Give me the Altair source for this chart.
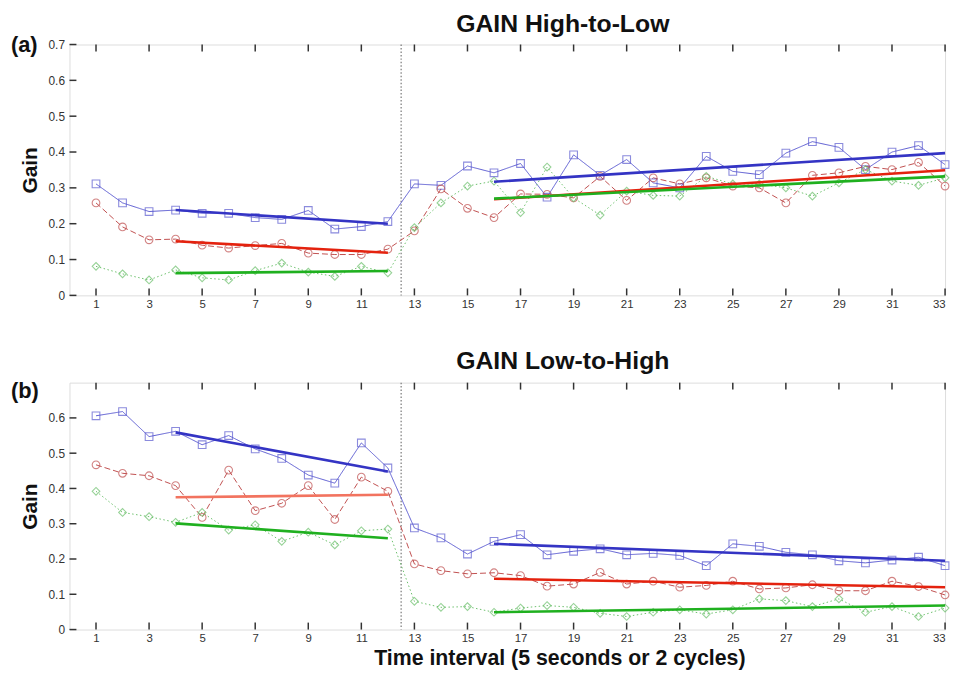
import altair as alt
import pandas as pd

intervals = list(range(1, 34))
x_ticks = list(range(1, 34, 2))
switch_at = [12.5]

a_blue = [0.311, 0.258, 0.234, 0.238, 0.229, 0.229, 0.217, 0.212, 0.237, 0.185, 0.192, 0.206,
          0.311, 0.307, 0.361, 0.342, 0.368, 0.274, 0.392, 0.335, 0.379, 0.314, 0.300, 0.388,
          0.346, 0.337, 0.397, 0.429, 0.413, 0.351, 0.400, 0.418, 0.365]
a_red = [0.258, 0.191, 0.155, 0.157, 0.140, 0.132, 0.139, 0.145, 0.118, 0.114, 0.114, 0.129,
         0.180, 0.297, 0.243, 0.217, 0.283, 0.282, 0.272, 0.332, 0.265, 0.328, 0.311, 0.328,
         0.305, 0.300, 0.258, 0.335, 0.342, 0.360, 0.351, 0.371, 0.305]
a_green = [0.081, 0.060, 0.043, 0.071, 0.049, 0.043, 0.069, 0.090, 0.065, 0.053, 0.081, 0.063,
           0.189, 0.258, 0.305, 0.319, 0.231, 0.358, 0.272, 0.224, 0.291, 0.279, 0.277, 0.332,
           0.311, 0.311, 0.300, 0.277, 0.314, 0.351, 0.319, 0.307, 0.328]
b_blue = [0.606, 0.618, 0.547, 0.562, 0.524, 0.550, 0.512, 0.485, 0.438, 0.415, 0.529, 0.458,
          0.288, 0.260, 0.214, 0.250, 0.269, 0.212, 0.222, 0.229, 0.212, 0.216, 0.210, 0.181,
          0.243, 0.236, 0.219, 0.212, 0.195, 0.189, 0.197, 0.205, 0.181]
b_red = [0.467, 0.443, 0.436, 0.408, 0.318, 0.452, 0.337, 0.358, 0.408, 0.312, 0.432, 0.392,
         0.186, 0.167, 0.158, 0.161, 0.153, 0.123, 0.129, 0.162, 0.129, 0.137, 0.120, 0.125,
         0.137, 0.115, 0.118, 0.127, 0.110, 0.110, 0.137, 0.122, 0.098]
b_green = [0.392, 0.332, 0.320, 0.304, 0.332, 0.282, 0.297, 0.250, 0.276, 0.240, 0.280, 0.285,
           0.080, 0.063, 0.065, 0.049, 0.061, 0.068, 0.063, 0.046, 0.037, 0.049, 0.056, 0.044,
           0.056, 0.087, 0.082, 0.065, 0.087, 0.049, 0.065, 0.037, 0.061]

# trend-line endpoints (pre-switch: intervals 4..12, post-switch: 16..33)
fit_x_pre = [4, 12]
fit_x_post = [16, 33]
a_fit_blue_pre = [0.238, 0.200]
a_fit_blue_post = [0.317, 0.397]
a_fit_red_pre = [0.151, 0.119]
a_fit_red_post = [0.268, 0.349]
a_fit_green_pre = [0.062, 0.068]
a_fit_green_post = [0.270, 0.332]
b_fit_blue_pre = [0.559, 0.448]
b_fit_blue_post = [0.243, 0.195]
b_fit_red_pre = [0.375, 0.382]
b_fit_red_post = [0.144, 0.120]
b_fit_green_pre = [0.301, 0.259]
b_fit_green_post = [0.049, 0.068]

a_yticks = [0, 0.1, 0.2, 0.3, 0.4, 0.5, 0.6, 0.7]
b_yticks = [0, 0.1, 0.2, 0.3, 0.4, 0.5, 0.6]

series_names = ["blue", "red", "green"]

rows = []
for pkey, vals in (("a", (a_blue, a_red, a_green)), ("b", (b_blue, b_red, b_green))):
    for s, v in zip(series_names, vals):
        for xi, yi in zip(intervals, v):
            rows.append({"panel": pkey, "series": s, "x": xi, "y": yi})
data = pd.DataFrame(rows)

fits = {
    "a": {"blue": (a_fit_blue_pre, a_fit_blue_post), "red": (a_fit_red_pre, a_fit_red_post),
          "green": (a_fit_green_pre, a_fit_green_post)},
    "b": {"blue": (b_fit_blue_pre, b_fit_blue_post), "red": (b_fit_red_pre, b_fit_red_post),
          "green": (b_fit_green_pre, b_fit_green_post)},
}
frows = []
for pkey, d in fits.items():
    for s, (pre, post) in d.items():
        for seg, xs, ys in (("pre", fit_x_pre, pre), ("post", fit_x_post, post)):
            tone = s + ("_light" if (pkey == "b" and s == "red" and seg == "pre") else "")
            for xi, yi in zip(xs, ys):
                frows.append({"panel": pkey, "series": s, "seg": seg, "tone": tone, "x": xi, "y": yi})
fitdata = pd.DataFrame(frows)

FONT = "Liberation Sans"
W = 883

line_color = alt.Scale(domain=series_names, range=["#5b5bd0", "#c05050", "#6cc06c"])
dash_scale = alt.Scale(domain=series_names, range=[[1, 0], [6, 3], [1.5, 2.5]])
shape_scale = alt.Scale(domain=series_names, range=["square", "circle", "diamond"])
fit_color = alt.Scale(domain=["blue", "red", "green", "red_light"],
                      range=["#3434c4", "#e4220e", "#1fb01f", "#f2735f"])


def panel(pkey, title, label, yticks, xtitle, H, label_y, toff):
    x_enc = alt.X("x:Q", scale=alt.Scale(domain=[0, 33], nice=False, zero=False),
                  axis=alt.Axis(values=x_ticks, format="d", ticks=False, domain=False, grid=False,
                                labelFlush=True, labelPadding=3, labelFontSize=11.5, labelColor="#333",
                                labelFont=FONT, title=xtitle, titleFont=FONT, titleFontSize=21.5,
                                titleFontWeight="bold", titleX=494, titleY=18, titleBaseline="top",
                                titleColor="#111"))
    y_enc = alt.Y("y:Q", scale=alt.Scale(domain=[0, 0.7], nice=False),
                  axis=alt.Axis(values=yticks, format=".1~f", ticks=False, domain=False, grid=False,
                                labelPadding=5, labelFontSize=12, labelColor="#333", labelFont=FONT,
                                title="Gain", titleFont=FONT, titleFontSize=21, titleFontWeight="bold",
                                titlePadding=8, titleColor="#111"))
    d = data[data.panel == pkey]
    f = fitdata[fitdata.panel == pkey]

    lines = alt.Chart(d).mark_line(strokeWidth=1).encode(
        x=x_enc, y=y_enc,
        color=alt.Color("series:N", scale=line_color, legend=None),
        strokeDash=alt.StrokeDash("series:N", scale=dash_scale, legend=None),
    )
    pts = alt.Chart(d).mark_point(filled=False, size=60, strokeWidth=1.1).encode(
        x=x_enc, y=y_enc,
        color=alt.Color("series:N", scale=line_color, legend=None),
        shape=alt.Shape("series:N", scale=shape_scale, legend=None),
    )
    fitl = alt.Chart(f).mark_line(strokeWidth=2.6).encode(
        x=x_enc, y=y_enc,
        stroke=alt.Stroke("tone:N", scale=fit_color, legend=None),
        detail="seg:N",
    )
    vline = alt.Chart(pd.DataFrame({"x": switch_at})).mark_rule(
        color="#777", strokeDash=[1.5, 2], strokeWidth=1.2).encode(x=x_enc)
    xt = pd.DataFrame({"x": x_ticks})
    top_ticks = alt.Chart(xt).mark_rule(color="#333", strokeWidth=1.5).encode(
        x=x_enc, y=alt.value(0), y2=alt.value(7))
    bot_ticks = alt.Chart(xt).mark_rule(color="#333", strokeWidth=1.5).encode(
        x=x_enc, y=alt.value(H), y2=alt.value(H - 7))
    yt = pd.DataFrame({"y": yticks})
    left_ticks = alt.Chart(yt).mark_rule(color="#333", strokeWidth=1.5).encode(
        y=y_enc, x=alt.value(0), x2=alt.value(7))
    lab = alt.Chart(pd.DataFrame({"label": [label]})).mark_text(
        align="left", baseline="middle", fontSize=22, fontWeight="bold", font=FONT, color="#111"
    ).encode(x=alt.value(-59), y=alt.value(label_y), text="label:N")

    return alt.layer(vline, lines, pts, fitl, top_ticks, bot_ticks, left_ticks, lab).properties(
        width=W, height=H,
        title=alt.TitleParams(title, fontSize=25, fontWeight="bold", font=FONT, dx=56,
                              offset=toff, anchor="middle", color="#111"),
    )


pa = panel("a", "GAIN High-to-Low", "(a)", a_yticks, None, 253, 1, -2)
pb = panel("b", "GAIN Low-to-High", "(b)", b_yticks, "Time interval (5 seconds or 2 cycles)", 249, 8, 6)

chart = alt.vconcat(pa, pb, spacing=38).properties(
    padding={"left": 2, "top": 0, "right": 0, "bottom": 0}
).configure_view(stroke="#555", strokeWidth=1.6).configure(background="white")

chart.save("out.html", embed_options={"renderer": "svg", "actions": False})
